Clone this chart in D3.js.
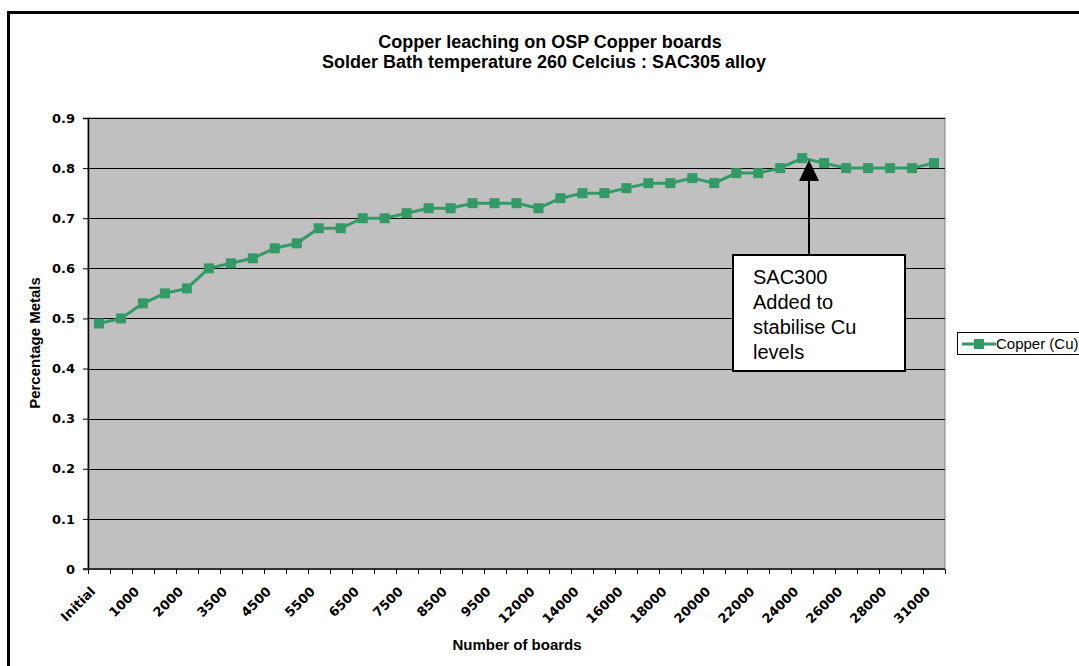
<!DOCTYPE html>
<html>
<head>
<meta charset="utf-8">
<script src="https://cdn.jsdelivr.net/npm/d3@7"></script>
<style>
  body { margin: 0; background: #fff; }
  svg { display: block; }
</style>
</head>
<body>
<div id="chart"></div>
<script>
// categories (number of boards) - only every other one is labelled on the axis
var boards = ["Initial", "500", "1000", "1500", "2000", "3000", "3500", "4000", "4500", "5000",
  "5500", "6000", "6500", "7000", "7500", "8000", "8500", "9000", "9500", "11000",
  "12000", "13000", "14000", "15000", "16000", "17000", "18000", "19000", "20000", "21000",
  "22000", "23000", "24000", "25000", "26000", "27000", "28000", "30000", "31000"];
var copper = [0.49, 0.50, 0.53, 0.55, 0.56, 0.60, 0.61, 0.62, 0.64, 0.65,
  0.68, 0.68, 0.70, 0.70, 0.71, 0.72, 0.72, 0.73, 0.73, 0.73,
  0.72, 0.74, 0.75, 0.75, 0.76, 0.77, 0.77, 0.78, 0.77, 0.79,
  0.79, 0.80, 0.82, 0.81, 0.80, 0.80, 0.80, 0.80, 0.81];
var shownLabels = ["Initial", "1000", "2000", "3500", "4500", "5500", "6500", "7500", "8500", "9500",
  "12000", "14000", "16000", "18000", "20000", "22000", "24000", "26000", "28000", "31000"];
var yTicks = [0, 0.1, 0.2, 0.3, 0.4, 0.5, 0.6, 0.7, 0.8, 0.9];
var noteLines = ["SAC300", "Added to", "stabilise Cu", "levels"];
var noteAt = "24000";

var W = 1079, H = 666;
var plot = { left: 88, right: 945, top: 118, bottom: 569 };
var green = "#339966";
var arial = "Liberation Sans, Arial, sans-serif";

var svg = d3.select("#chart").append("svg").attr("width", W).attr("height", H);

// outer chart frame
svg.append("path").attr("d", "M8.5," + (H + 5) + "V12.5H" + (W + 5))
  .attr("fill", "none").attr("stroke", "#000").attr("stroke-width", 3);

var x = d3.scaleBand().domain(boards).range([plot.left, plot.right]).padding(0);
var y = d3.scaleLinear().domain([0, 0.9]).range([plot.bottom, plot.top]);

// plot area
svg.append("rect").attr("x", plot.left).attr("y", plot.top)
  .attr("width", plot.right - plot.left).attr("height", plot.bottom - plot.top)
  .attr("fill", "#c0c0c0").attr("stroke", "#808080").attr("stroke-width", 1);

// gridlines
svg.append("g").selectAll("line").data(yTicks.slice(1)).enter().append("line")
  .attr("x1", plot.left).attr("x2", plot.right)
  .attr("y1", function (d) { return Math.round(y(d)) + 0.5; })
  .attr("y2", function (d) { return Math.round(y(d)) + 0.5; })
  .attr("stroke", "#000").attr("stroke-width", 1);

// y axis
var yAxis = d3.axisLeft(y).tickValues(yTicks).tickSize(5).tickPadding(8)
  .tickFormat(function (d) { return d === 0 ? "0" : d3.format(".1f")(d); });
var gy = svg.append("g").attr("transform", "translate(" + plot.left + ",0)").call(yAxis);
gy.select(".domain").attr("stroke", "#000").attr("stroke-width", 1.5);
gy.selectAll(".tick line").attr("stroke", "#000");
gy.selectAll("text").attr("font-family", "DejaVu Sans, Verdana, sans-serif")
  .attr("font-weight", "bold").attr("font-size", 13).attr("fill", "#000");

// x axis: ticks between categories
var gx = svg.append("g").attr("transform", "translate(0," + plot.bottom + ")");
gx.append("line").attr("x1", plot.left - 5).attr("x2", plot.right)
  .attr("stroke", "#333").attr("stroke-width", 2);
gx.selectAll(".tk").data(boards.concat(["end"])).enter().append("line")
  .attr("x1", function (d, i) { return Math.round(plot.left + i * x.bandwidth()) + 0.5; })
  .attr("x2", function (d, i) { return Math.round(plot.left + i * x.bandwidth()) + 0.5; })
  .attr("y1", 0).attr("y2", 5).attr("stroke", "#000");
gx.selectAll("text").data(shownLabels).enter().append("text")
  .attr("transform", function (d) {
    return "translate(" + (x(d) + x.bandwidth() / 2 - 6) + ",20) rotate(-45)";
  })
  .attr("text-anchor", "end").attr("dy", "0.35em")
  .attr("font-family", "DejaVu Sans, Verdana, sans-serif").attr("font-weight", "bold")
  .attr("font-size", 13).text(function (d) { return d; });

// series
var line = d3.line()
  .x(function (d, i) { return x(boards[i]) + x.bandwidth() / 2; })
  .y(function (d) { return y(d); });
svg.append("path").datum(copper).attr("d", line)
  .attr("fill", "none").attr("stroke", green).attr("stroke-width", 3);
svg.append("g").selectAll("rect").data(copper).enter().append("rect")
  .attr("x", function (d, i) { return x(boards[i]) + x.bandwidth() / 2 - 5; })
  .attr("y", function (d) { return y(d) - 5; })
  .attr("width", 10).attr("height", 10).attr("fill", green);

// titles
var title = svg.append("text").attr("text-anchor", "middle")
  .attr("font-family", arial).attr("font-weight", "bold").attr("font-size", 18);
title.append("tspan").attr("x", 550).attr("y", 48).text("Copper leaching on OSP Copper boards");
title.append("tspan").attr("x", 544).attr("y", 68).text("Solder Bath temperature 260 Celcius : SAC305 alloy");

svg.append("text").attr("x", 517).attr("y", 650).attr("text-anchor", "middle")
  .attr("font-family", arial).attr("font-weight", "bold").attr("font-size", 15)
  .text("Number of boards");
svg.append("text").attr("transform", "translate(40,343) rotate(-90)").attr("text-anchor", "middle")
  .attr("font-family", arial).attr("font-weight", "bold").attr("font-size", 15)
  .text("Percentage Metals");

// annotation box + arrow
var ax = Math.round(x(noteAt) + x.bandwidth() / 2) + 7;
var tipY = y(copper[boards.indexOf(noteAt)]) + 2;
svg.append("line").attr("x1", ax).attr("x2", ax).attr("y1", 255).attr("y2", tipY + 18)
  .attr("stroke", "#000").attr("stroke-width", 2);
svg.append("path").attr("d", "M" + ax + "," + tipY + "L" + (ax - 10) + "," + (tipY + 21) + "L" + (ax + 10) + "," + (tipY + 21) + "Z")
  .attr("fill", "#000");
svg.append("rect").attr("x", 733).attr("y", 255).attr("width", 172).attr("height", 116)
  .attr("fill", "#fff").attr("stroke", "#000").attr("stroke-width", 2);
svg.append("g").selectAll("text").data(noteLines).enter().append("text")
  .attr("x", 753).attr("y", function (d, i) { return 284 + i * 25; })
  .attr("font-family", arial).attr("font-size", 20)
  .text(function (d) { return d; });

// legend
var lg = svg.append("g");
lg.append("rect").attr("x", 957.5).attr("y", 332.5).attr("width", 140).attr("height", 22)
  .attr("fill", "#fff").attr("stroke", "#000").attr("stroke-width", 1);
lg.append("line").attr("x1", 962).attr("x2", 996).attr("y1", 344).attr("y2", 344)
  .attr("stroke", green).attr("stroke-width", 3);
lg.append("rect").attr("x", 974).attr("y", 339).attr("width", 10).attr("height", 10).attr("fill", green);
lg.append("text").attr("x", 996).attr("y", 349)
  .attr("font-family", arial).attr("font-size", 15)
  .text("Copper (Cu)");
</script>
</body>
</html>
